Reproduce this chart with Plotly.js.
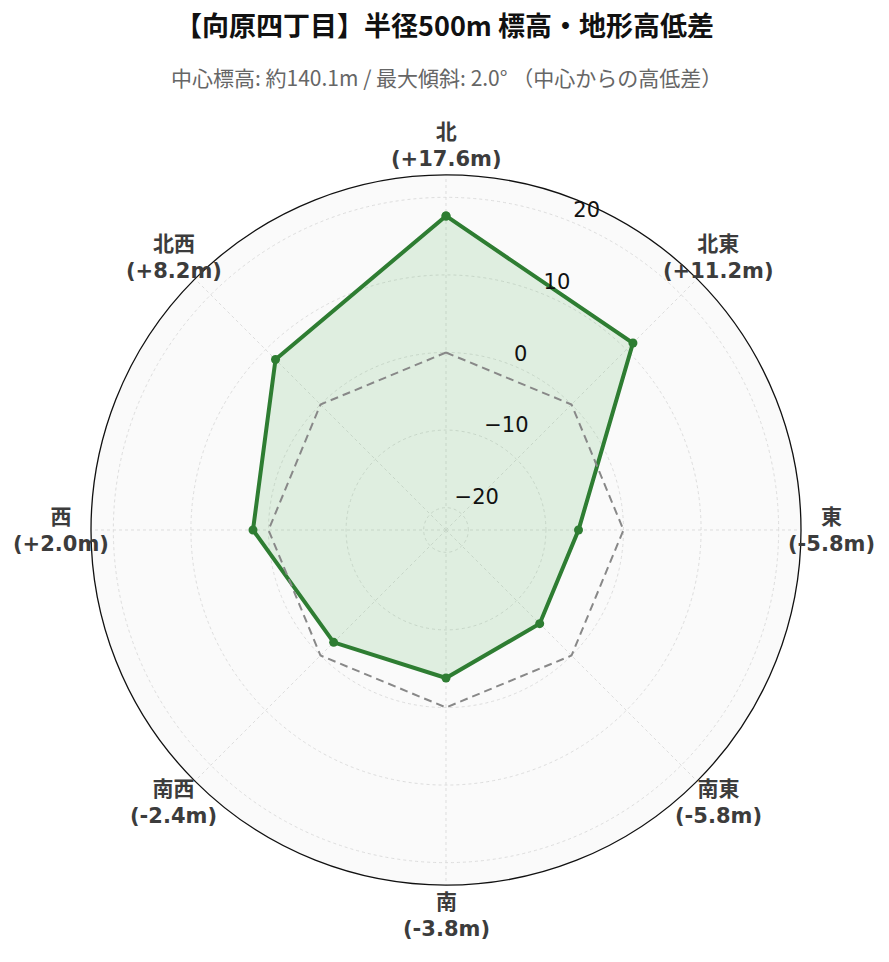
<!DOCTYPE html>
<html>
<head>
<meta charset="utf-8">
<script src="https://cdn.plot.ly/plotly-3.0.1.min.js"></script>
<style>html,body{margin:0;padding:0;background:#fff;}</style>
</head>
<body>
<div id="chart" style="width:889px;height:962px;"></div>
<script>
const directions = ["北", "北東", "東", "南東", "南", "南西", "西", "北西"];
const directionAngles = [0, 45, 90, 135, 180, 225, 270, 315];
const diffs = [17.6, 11.2, -5.8, -5.8, -3.8, -2.4, 2.0, 8.2];
const zeroLine = [0, 0, 0, 0, 0, 0, 0, 0];
const radialTicks = [-20, -10, 0, 10, 20];
const radialTickText = ["\u221220", "\u221210", "0", "10", "20"];
const titleText = "【向原四丁目】半径500m 標高・地形高低差";
const subtitleText = "中心標高: 約140.1m / 最大傾斜: 2.0° （中心からの高低差）";

function fmt(v) { return (v >= 0 ? "+" : "") + v.toFixed(1) + "m"; }
const dirLabels = directions.map((d, i) => "<b>" + d + "<br>(" + fmt(diffs[i]) + ")</b>");

const closedTheta = directionAngles.concat([directionAngles[0]]);
const maxAbs = Math.max(...diffs.map(Math.abs));
const rMax = maxAbs * 1.3;
const radialLabelAngle = 22.5;

const traces = [
  {
    type: "scatterpolar",
    r: diffs.concat([diffs[0]]),
    theta: closedTheta,
    mode: "lines+markers",
    fill: "toself",
    fillcolor: "rgba(76,175,80,0.15)",
    line: {color: "#2e7d32", width: 4},
    marker: {color: "#2e7d32", size: 9},
    hoverinfo: "skip",
    showlegend: false
  },
  {
    type: "scatterpolar",
    r: zeroLine.concat([zeroLine[0]]),
    theta: closedTheta,
    mode: "lines",
    line: {color: "#888888", width: 2, dash: "8px,5px"},
    hoverinfo: "skip",
    showlegend: false
  },
  {
    type: "scatterpolar",
    r: radialTicks,
    theta: radialTicks.map(() => radialLabelAngle),
    mode: "text",
    text: radialTickText,
    textposition: "top right",
    textfont: {family: "DejaVu Sans, sans-serif", size: 21, color: "#111111"},
    hoverinfo: "skip",
    showlegend: false,
    cliponaxis: false
  }
];

// angular labels: centered around the circle, just outside it
const labelFrac = 385 / 710;
const dirAnnotations = directions.map((d, i) => {
  const a = directionAngles[i] * Math.PI / 180;
  return {
    text: dirLabels[i],
    xref: "paper", yref: "paper",
    x: 0.5 + labelFrac * Math.sin(a),
    y: 0.5 + labelFrac * Math.cos(a),
    xanchor: "center", yanchor: "middle",
    align: "center",
    showarrow: false,
    font: {family: "DejaVu Sans, Noto Sans CJK JP, sans-serif", size: 21, color: "#3c3c3c"}
  };
});

const layout = {
  width: 889,
  height: 962,
  margin: {l: 91, r: 88, t: 175, b: 77},
  paper_bgcolor: "#ffffff",
  showlegend: false,
  title: {
    text: "<b>" + titleText + "</b>",
    x: 0.5, xanchor: "center",
    y: 1 - 27 / 962, yref: "container", yanchor: "middle",
    font: {family: "Noto Sans CJK JP, sans-serif", size: 27, color: "#111111"}
  },
  annotations: [{
    text: subtitleText,
    xref: "paper", yref: "paper",
    x: 0.5, y: (885 - 77) / 710,
    xanchor: "center", yanchor: "middle",
    showarrow: false,
    font: {family: "Noto Sans CJK JP, sans-serif", size: 21, color: "#666666"}
  }].concat(dirAnnotations),
  polar: {
    domain: {x: [0, 1], y: [0, 1]},
    bgcolor: "#fafafa",
    radialaxis: {
      range: [-rMax, rMax],
      tickvals: radialTicks,
      showticklabels: false,
      showline: false,
      ticks: "",
      gridcolor: "#dddddd",
      griddash: "dot"
    },
    angularaxis: {
      direction: "clockwise",
      rotation: 90,
      tickmode: "array",
      tickvals: directionAngles,
      showticklabels: false,
      showline: true,
      linecolor: "#111111",
      linewidth: 1.3,
      gridcolor: "#dddddd",
      griddash: "dot",
      ticks: ""
    }
  }
};

Plotly.newPlot("chart", traces, layout, {displayModeBar: false, staticPlot: true});
</script>
</body>
</html>
